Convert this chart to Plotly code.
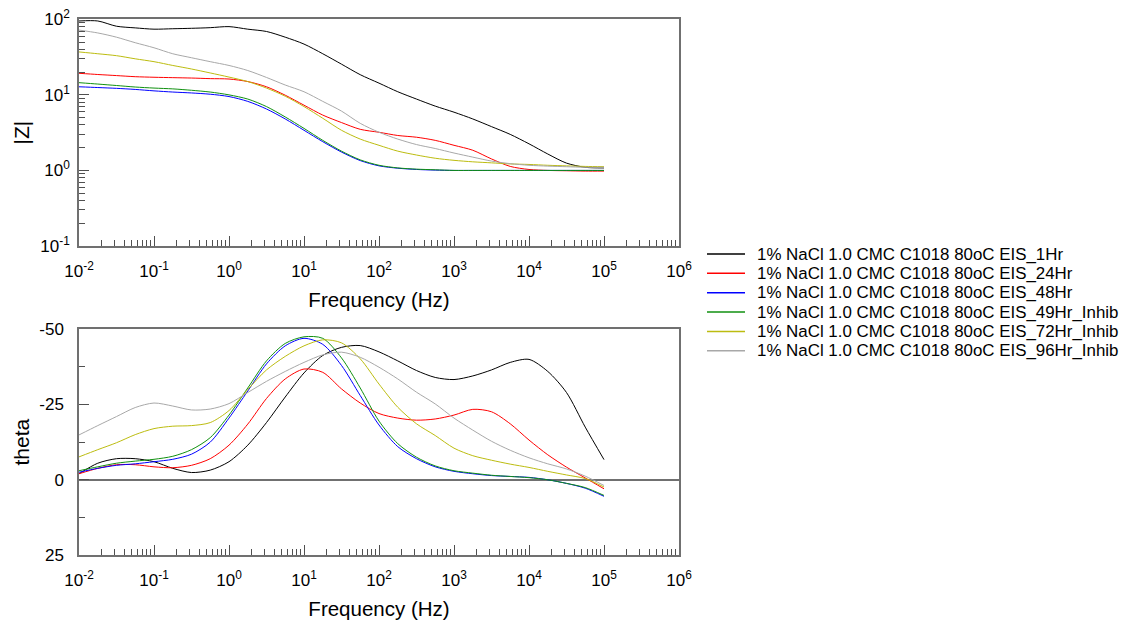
import plotly.graph_objects as go

W, H = 1128, 626

# ---------------- data ----------------
freq_hz = [0.01, 0.0178, 0.0316, 0.0562, 0.1, 0.178, 0.316, 0.562,
           1, 1.78, 3.16, 5.62, 10, 17.8, 31.6, 56.2,
           100, 178, 316, 562, 1000, 1780, 3160, 5620,
           10000, 17800, 31600, 56200, 100000]

series_names = [
    "1% NaCl 1.0 CMC C1018 80oC EIS_1Hr",
    "1% NaCl 1.0 CMC C1018 80oC EIS_24Hr",
    "1% NaCl 1.0 CMC C1018 80oC EIS_48Hr",
    "1% NaCl 1.0 CMC C1018 80oC EIS_49Hr_Inhib",
    "1% NaCl 1.0 CMC C1018 80oC EIS_72Hr_Inhib",
    "1% NaCl 1.0 CMC C1018 80oC EIS_96Hr_Inhib",
]
series_colors = ["#000000", "#ff0000", "#0000ff", "#109010", "#bcbc10", "#a8a8a8"]

zmod_1hr = [95, 95, 81, 77, 74, 75, 76, 77.5, 80, 74, 69, 58, 47, 35, 25.5, 18.5,
            14.3, 11, 8.8, 7.1, 5.9, 4.8, 3.8, 3.0, 2.25, 1.65, 1.25, 1.1, 1.08]
zmod_24hr = [19.3, 18.6, 18.0, 17.4, 17.1, 16.9, 16.7, 16.4, 16.2, 15.0, 12.8, 9.9, 7.3, 5.4, 4.3, 3.5,
             3.2, 2.9, 2.75, 2.5, 2.15, 1.85, 1.42, 1.13, 1.03, 1.0, 0.99, 0.98, 0.98]
zmod_48hr = [12.8, 12.5, 12.2, 11.8, 11.3, 10.9, 10.6, 10.2, 9.5, 8.2, 6.5, 4.8, 3.4, 2.4, 1.75, 1.35,
             1.15, 1.07, 1.03, 1.01, 1.0, 1.0, 1.0, 1.0, 1.0, 1.0, 1.0, 1.0, 1.0]
zmod_49hr = [14.5, 13.9, 13.3, 12.7, 12.3, 12.0, 11.5, 10.9, 10.0, 8.8, 7.0, 5.1, 3.6, 2.5, 1.8, 1.38,
             1.17, 1.08, 1.04, 1.02, 1.0, 1.0, 1.0, 1.0, 1.0, 1.0, 1.0, 1.0, 1.0]
zmod_72hr = [37, 35, 33, 30, 27.5, 24.5, 22, 19.5, 17.2, 15.0, 12.3, 9.6, 7.0, 4.9, 3.4, 2.6,
             2.15, 1.8, 1.6, 1.45, 1.36, 1.3, 1.26, 1.22, 1.2, 1.17, 1.15, 1.13, 1.12]
zmod_96hr = [72, 66, 58, 49, 42, 35, 31, 27.5, 24.5, 21, 17, 13.5, 11, 8.2, 6.1, 4.2,
             3.2, 2.6, 2.2, 1.95, 1.7, 1.5, 1.33, 1.23, 1.17, 1.14, 1.12, 1.1, 1.1]

theta_1hr = [-2, -5.5, -7, -7, -6, -3.8, -2.4, -3.2, -6, -11.5, -19, -27.5, -35.5, -41.3, -44, -44.6,
             -42.5, -39.5, -36.3, -34, -33.3, -34.5, -36.5, -39, -40, -36, -29, -17.5, -6.7]
theta_24hr = [-2, -3.8, -5, -5, -4.3, -4, -4.8, -7, -11.5, -18.5, -27, -33.5, -36.8, -35.7, -30.2, -25.5,
              -22, -20.5, -19.8, -20.2, -21.5, -23.4, -22.6, -18.6, -13.2, -8.3, -4.2, -0.6, 3]
theta_48hr = [-2.5, -3.8, -4.8, -5.3, -6, -6.8, -8.5, -12.5, -20.5, -29.5, -38.5, -44.5, -47, -45, -38, -28,
              -18.2, -11, -7, -4.3, -2.8, -2, -1.4, -1.1, -0.8, 0, 1.2, 2.8, 5.5]
theta_49hr = [-3, -4.3, -5.5, -6.2, -6.8, -7.8, -10, -14, -21.5, -30.5, -39.5, -45.3, -47.5, -47, -40.5, -30.5,
              -19.5, -12, -7.5, -4.6, -3, -2.2, -1.5, -1.1, -0.7, 0, 1.2, 2.6, 5.2]
theta_72hr = [-7.6, -10, -12.3, -15, -17, -17.8, -18, -19, -23, -30, -36.5, -41, -44.5, -46.5, -45.5, -40.2,
              -31.8, -24.1, -18.6, -14.7, -10.5, -8, -6.5, -5.2, -4.1, -2.8, -1.6, -0.4, 2.4]
theta_96hr = [-14.9, -18, -21, -24, -25.5, -24.5, -23.2, -23.5, -25.3, -29, -32.7, -36, -39, -41.5, -42.4, -40.7,
              -37.4, -33.5, -29.1, -25.2, -20.5, -16.5, -12.8, -9.8, -7.3, -5.3, -3.6, -1.2, 1.9]

zmod_series = [zmod_1hr, zmod_24hr, zmod_48hr, zmod_49hr, zmod_72hr, zmod_96hr]
theta_series = [theta_1hr, theta_24hr, theta_48hr, theta_49hr, theta_72hr, theta_96hr]

x_tick_vals = [0.01, 0.1, 1, 10, 100, 1000, 10000, 100000, 1000000]
x_tick_text = ["10<sup>-2</sup>", "10<sup>-1</sup>", "10<sup>0</sup>", "10<sup>1</sup>",
               "10<sup>2</sup>", "10<sup>3</sup>", "10<sup>4</sup>", "10<sup>5</sup>", "10<sup>6</sup>"]
z_tick_vals = [0.1, 1, 10, 100]
z_tick_text = ["10<sup>-1</sup>", "10<sup>0</sup>", "10<sup>1</sup>", "10<sup>2</sup>"]
theta_tick_vals = [-50, -25, 0, 25]
theta_tick_text = ["-50", "-25", "0", "25"]

# ---------------- layout geometry (pixels) ----------------
FONT = "Arial, Liberation Sans, sans-serif"
X0, X1 = 79, 679
TOP_Y0, TOP_Y1 = 19.3, 246
BOT_Y0, BOT_Y1 = 329.3, 555

def fx(p):
    return p / W

def fy(p):
    return 1 - p / H

x_minor = [m * 10 ** e for e in range(-2, 6) for m in range(2, 10)]
z_minor = [m * 10 ** e for e in range(-1, 2) for m in range(2, 10)]

fig = go.Figure()
for name, color, z, th in zip(series_names, series_colors, zmod_series, theta_series):
    fig.add_trace(go.Scatter(x=freq_hz, y=z, mode="lines", name=name,
                             line=dict(color=color, width=1, shape="spline", smoothing=0.8),
                             xaxis="x", yaxis="y", showlegend=False))
    fig.add_trace(go.Scatter(x=freq_hz, y=th, mode="lines", name=name,
                             line=dict(color=color, width=1, shape="spline", smoothing=0.8),
                             xaxis="x2", yaxis="y2", showlegend=False))

axis_line = dict(showline=True, linecolor="#707070", linewidth=1.5, mirror=True,
                 showgrid=False, zeroline=False, ticks="inside", ticklen=10,
                 tickcolor="#505050", tickwidth=1,
                 tickfont=dict(family=FONT, size=17, color="#000000"))

xcommon = dict(axis_line, type="log", range=[-2, 6], tickmode="array",
               tickvals=x_tick_vals, ticktext=x_tick_text, ticklabelstandoff=9,
               minor=dict(ticks="inside", ticklen=6, tickcolor="#505050", tickwidth=1,
                          tickmode="array", tickvals=x_minor, showgrid=False),
               title=dict(text="Frequency (Hz)", font=dict(family=FONT, size=20.5, color="#000000"),
                          standoff=12),
               automargin=False)

fig.update_layout(
    width=W, height=H, autosize=False,
    margin=dict(l=0, r=0, t=0, b=0),
    paper_bgcolor="white", plot_bgcolor="white",
    showlegend=False,
    xaxis=dict(xcommon, domain=[fx(X0), fx(X1)], anchor="y"),
    yaxis=dict(axis_line, type="log", range=[-1, 2], domain=[fy(TOP_Y1), fy(TOP_Y0)],
               anchor="x", tickmode="array", tickvals=z_tick_vals, ticktext=z_tick_text,
               ticklabelstandoff=4,
               minor=dict(ticks="inside", ticklen=6, tickcolor="#505050", tickwidth=1,
                          tickmode="array", tickvals=z_minor, showgrid=False),
               title=dict(text="|Z|", font=dict(family=FONT, size=21, color="#000000"), standoff=5),
               automargin=False),
    xaxis2=dict(xcommon, domain=[fx(X0), fx(X1)], anchor="y2"),
    yaxis2=dict(axis_line, range=[25, -50], domain=[fy(BOT_Y1), fy(BOT_Y0)], anchor="x2",
                tickmode="array", tickvals=theta_tick_vals, ticktext=theta_tick_text,
                ticklabelstandoff=10,
                zeroline=True, zerolinecolor="#707070", zerolinewidth=1.5,
                minor=dict(ticks="inside", ticklen=6, tickcolor="#505050", tickwidth=1,
                           dtick=12.5, tick0=0, showgrid=False),
                title=dict(text="theta", font=dict(family=FONT, size=21, color="#000000"), standoff=4),
                automargin=False),
)

# ---------------- legend (drawn as line samples + text) ----------------
LEG_LINE_X0, LEG_LINE_X1, LEG_TEXT_X = 707, 745, 755
LEG_Y0, LEG_DY = 254, 19.35
for i, (name, color) in enumerate(zip(series_names, series_colors)):
    yy = LEG_Y0 + i * LEG_DY
    fig.add_shape(type="line", xref="paper", yref="paper",
                  x0=fx(LEG_LINE_X0), x1=fx(LEG_LINE_X1), y0=fy(yy), y1=fy(yy),
                  line=dict(color=color, width=1.5))
    fig.add_annotation(xref="paper", yref="paper", x=fx(LEG_TEXT_X), y=fy(yy),
                       xanchor="left", yanchor="middle", showarrow=False, text=name,
                       font=dict(family=FONT, size=16.9, color="#000000"))

fig.write_html("out.html", config={"displayModeBar": False},
               post_script="document.body.style.margin='0';")
